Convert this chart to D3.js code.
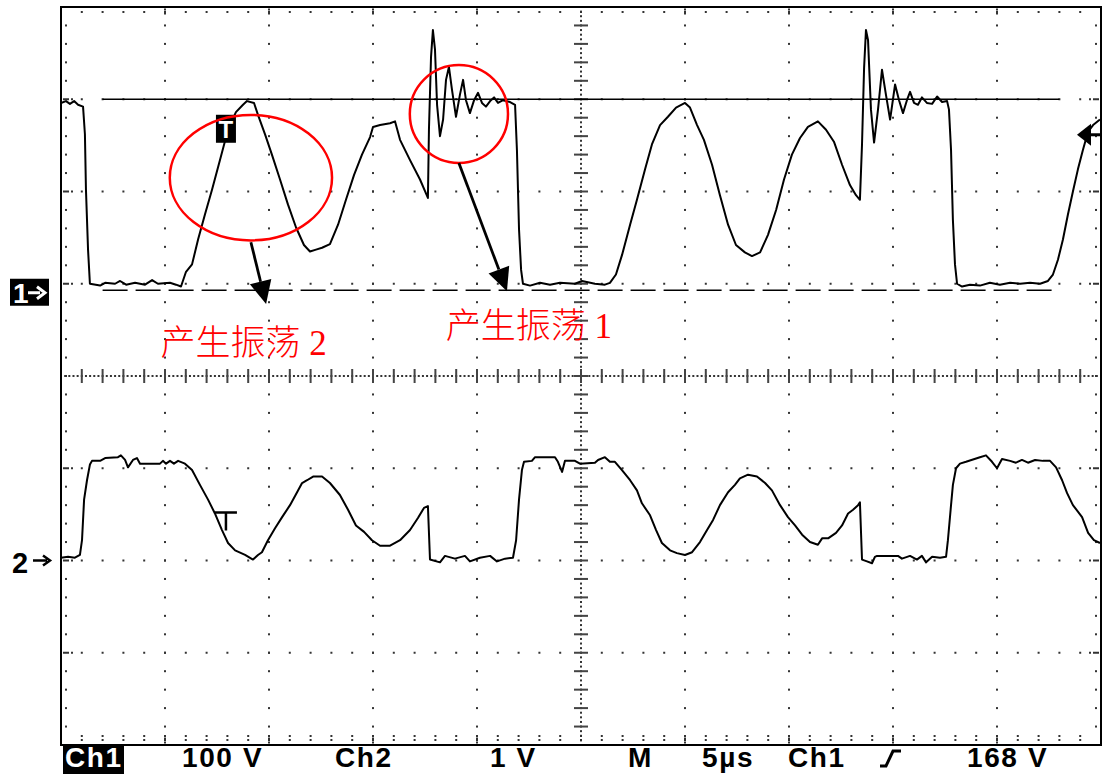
<!DOCTYPE html>
<html>
<head>
<meta charset="utf-8">
<script src="https://cdn.jsdelivr.net/npm/d3@7"></script>
<style>
  body { margin: 0; background: #fff; }
  svg { display: block; }
</style>
</head>
<body>
<div id="scope"></div>
<script>
// Scope settings
var timePerDiv = 5;      // µs / div
var ch1PerDiv = 100;     // V / div
var ch2PerDiv = 1;       // V / div
var trigLevel = 168;     // V
var trigTime = 7.93;     // µs

// Channel 1 trace (µs, V)
var ch1Time = [
  0, 0.24, 0.43, 0.63, 0.82, 1.06, 1.15, 1.20, 1.30, 1.39,
  1.88, 2.12, 2.60, 2.84, 3.13, 3.56, 4.04, 4.38, 4.66, 5.24, 5.53, 5.77,
  6.01, 6.30, 6.59, 6.92, 7.26, 7.64, 8.03, 8.41, 8.75, 8.94, 9.28, 9.47, 9.81, 10.14,
  10.53, 10.91, 11.30, 11.68, 11.97, 12.26, 12.55, 12.93, 13.32, 13.70, 14.09, 14.47,
  14.86, 15.00, 15.34, 15.82, 16.06, 16.30, 16.78, 17.26, 17.64,
  17.69, 17.79, 17.88, 17.98, 18.08, 18.22, 18.37, 18.51, 18.65, 18.80, 18.99, 19.18,
  19.33, 19.47, 19.66, 19.86, 20.05, 20.24, 20.43, 20.63, 20.82, 21.01, 21.25, 21.59, 21.83,
  21.92, 22.02, 22.12, 22.21, 22.55, 23.03, 23.51, 23.99, 24.71, 25.05, 25.67, 26.15, 26.39,
  26.68, 26.97, 27.36, 27.69, 28.08, 28.41, 28.80, 29.18, 29.57, 30.00, 30.24, 30.58,
  30.91, 31.30, 31.68, 32.07, 32.45, 32.88, 33.22, 33.61, 33.99, 34.38, 34.76, 35.14,
  35.53, 35.91, 36.39, 36.78, 37.16, 37.55, 37.93, 38.22, 38.41,
  38.51, 38.61, 38.70, 38.80, 38.94, 39.09, 39.28, 39.47, 39.66, 39.86, 40.10, 40.29,
  40.48, 40.67, 40.82, 41.01, 41.20, 41.39, 41.63, 41.88, 42.12, 42.36, 42.60,
  42.69, 42.79, 42.88, 42.98, 43.08, 43.32, 43.70, 44.18, 44.66, 45.14, 45.63, 46.11,
  46.59, 47.07, 47.45,
  47.69, 47.93, 48.17, 48.41, 48.65, 48.89, 49.13, 49.38, 49.62, 49.95
];
var ch1Volt = [
  196, 198, 195, 198, 194, 192, 162, 102, 37, 0,
  -2, 1, 0, 3, -1, 1, -1, 4, 0, 1, -1, -3,
  13, 21, 48, 75, 102, 134, 167, 186, 194, 198, 196, 183, 162, 140,
  113, 86, 61, 42, 35, 37, 39, 43, 64, 91, 118, 140,
  159, 170, 172, 174, 176, 156, 134, 113, 93,
  167, 246, 275, 254, 194, 160, 178, 221, 235, 210, 181, 205,
  221, 199, 185, 199, 207, 196, 192, 198, 202, 196, 199, 197, 194,
  145, 59, 15, 0, -2, 1, -1, 1, 0, 3, 0, -1, 1,
  10, 31, 64, 91, 124, 151, 172, 181, 191, 196, 191, 172,
  156, 129, 96, 64, 42, 34, 30, 34, 53, 80, 113, 140,
  158, 170, 176, 167, 154, 129, 107, 96, 91,
  151, 234, 275, 264, 189, 153, 189, 232, 205, 178, 216, 199,
  185, 199, 208, 196, 194, 202, 196, 195, 203, 197, 198,
  189, 145, 69, 21, 0, -3, -1, -2, 1, -1, 1, 0,
  1, 0, 3,
  10, 26, 48, 75, 100, 124, 145, 165, 172, 178
];

// Channel 2 trace (µs, V)
var ch2Time = [
  0, 0.34, 0.67, 0.91, 1.01, 1.11, 1.25, 1.39, 1.49, 1.88,
  2.12, 2.74, 2.88, 3.08, 3.22, 3.46, 3.65, 3.80, 4.76, 4.90,
  5.05, 5.24, 5.43, 5.63, 5.96, 6.30, 6.68, 7.07, 7.40, 7.74,
  8.03, 8.37, 8.85, 9.23, 9.47, 9.66, 9.95, 10.29, 10.63, 11.01,
  11.35, 11.59, 11.83, 12.12, 12.55, 12.93, 13.41, 13.80, 14.18, 14.57,
  14.95, 15.34, 15.82, 16.30, 16.78, 17.16, 17.45, 17.64, 17.74, 18.22,
  18.46, 18.94, 19.42, 19.66, 20.14, 20.63, 20.96, 21.35, 21.73, 21.88,
  22.02, 22.16, 22.26, 22.64, 22.79, 23.75, 23.89, 24.09, 24.23, 24.71,
  24.95, 25.67, 25.82, 26.15, 26.39, 26.63, 26.97, 27.36, 27.69, 27.93,
  28.32, 28.61, 28.89, 29.28, 29.61, 30.00, 30.34, 30.72, 31.06, 31.35,
  31.68, 32.07, 32.40, 32.64, 33.03, 33.46, 33.85, 34.18, 34.57, 34.95,
  35.29, 35.63, 36.01, 36.39, 36.59, 36.88, 37.26, 37.55, 37.84, 38.08,
  38.32, 38.41, 38.51, 38.75, 38.99, 39.13, 39.23, 40.24, 40.43, 40.82,
  41.15, 41.39, 41.59, 41.88, 42.26, 42.55, 42.64, 42.79, 42.88, 43.03,
  43.22, 43.51, 44.18, 44.47, 44.76, 45.00, 45.24, 45.63, 45.91, 46.20,
  46.49, 46.83, 47.21, 47.55, 47.84, 48.13, 48.37, 48.65, 48.89, 49.09,
  49.38, 49.66, 49.95
];
var ch2Volt = [
  0.03, 0.04, 0.03, 0.06, 0.22, 0.66, 0.87, 1.04, 1.08, 1.08,
  1.11, 1.12, 1.14, 1.09, 1.01, 1.09, 1.11, 1.05, 1.05, 1.08,
  1.05, 1.08, 1.05, 1.08, 1.05, 0.98, 0.82, 0.66, 0.51, 0.33,
  0.19, 0.11, 0.06, 0.01, 0.06, 0.09, 0.22, 0.35, 0.47, 0.60,
  0.74, 0.84, 0.87, 0.91, 0.91, 0.84, 0.71, 0.55, 0.38, 0.31,
  0.22, 0.16, 0.16, 0.22, 0.33, 0.46, 0.57, 0.59, 0.01, -0.02,
  0.05, 0.02, 0.05, -0.01, 0.03, 0.05, -0.01, 0.02, 0.03, 0.22,
  0.66, 0.98, 1.07, 1.08, 1.12, 1.12, 1.07, 0.96, 1.08, 1.08,
  1.05, 1.06, 1.09, 1.12, 1.07, 1.07, 0.98, 0.87, 0.76, 0.62,
  0.49, 0.33, 0.19, 0.11, 0.08, 0.06, 0.09, 0.20, 0.33, 0.44,
  0.60, 0.74, 0.82, 0.89, 0.93, 0.91, 0.84, 0.76, 0.60, 0.47,
  0.38, 0.28, 0.20, 0.17, 0.24, 0.24, 0.30, 0.38, 0.51, 0.55,
  0.60, 0.63, 0.01, -0.01, -0.03, 0.04, 0.05, 0.05, 0.02, 0.05,
  0.01, 0.05, -0.02, 0.04, 0.03, 0.04, 0.22, 0.60, 0.82, 1.00,
  1.05, 1.07, 1.12, 1.14, 1.07, 1.00, 1.10, 1.08, 1.06, 1.09,
  1.06, 1.09, 1.08, 1.08, 1.01, 0.87, 0.73, 0.60, 0.53, 0.47,
  0.30, 0.22, 0.19
];

// Cursor lines on ch1 (V): solid, dashed
var cursorLevels = [200, -7];
var cursorSpan = [2, 48];

// Annotations: red rings on ch1 (centre µs/V, radius µs/V), arrows, labels
var ringCentres = [[9.13, 115], [19.13, 184]];
var ringRadii = [[3.9, 68], [2.36, 53]];
var arrowFrom = [[9.13, 45], [19.13, 131]];
var arrowTo = [[9.86, -22], [21.44, -8]];
var noteText = ["产生振荡", "产生振荡"];
var noteNum = ["2", "1"];
var noteAt = [[4.78, -77], [18.5, -59]];

// ---- drawing ----
var width = 1104, height = 774;
var plot = { left: 61, top: 7, right: 1101, bottom: 745 };

var svg = d3.select("#scope").append("svg")
  .attr("width", width).attr("height", height);

var x = d3.scaleLinear().domain([0, 10 * timePerDiv]).range([plot.left, plot.right]);
var y1 = d3.scaleLinear().domain([-5 * ch1PerDiv, 3 * ch1PerDiv]).range([plot.bottom, plot.top]);
var y2 = d3.scaleLinear().domain([-2 * ch2PerDiv, 6 * ch2PerDiv]).range([plot.bottom, plot.top]);
var yDiv = d3.scaleLinear().domain([0, 8]).range([plot.top, plot.bottom]);

// grid dots
var dots = [];
var ticks = [];
d3.range(1, 10).forEach(function (k) {
  var gx = x(k * timePerDiv);
  if (k === 5) {
    d3.range(0, 161).forEach(function (j) { dots.push([gx, yDiv(j / 20)]); });
    d3.range(1, 40).forEach(function (j) { ticks.push([gx - 7, yDiv(j / 5) - 1, 14, 2]); });
  } else {
    d3.range(1, 40).forEach(function (j) { dots.push([gx, yDiv(j / 5)]); });
    [2.5, 6.5].forEach(function (o) {
      dots.push([gx, plot.top + o]); dots.push([gx, plot.bottom - o]);
    });
  }
});
d3.range(1, 8).forEach(function (k) {
  var gy = yDiv(k);
  if (k === 4) {
    d3.range(0, 251).forEach(function (j) { dots.push([x(j / 5), gy]); });
    d3.range(1, 50).forEach(function (i) { ticks.push([x(i) - 1, gy - 7, 2, 14]); });
  } else {
    d3.range(1, 50).forEach(function (i) { dots.push([x(i), gy]); });
    [3, 7, 11].forEach(function (o) {
      dots.push([plot.left + o, gy]); dots.push([plot.right - o, gy]);
    });
  }
});
// edge ticks
d3.range(1, 50).forEach(function (i) {
  dots.push([x(i), plot.top + 5]);
  dots.push([x(i), plot.bottom - 5]);
  dots.push([x(i), plot.bottom - 9]);
});
d3.range(1, 40).forEach(function (j) {
  dots.push([plot.left + 5, yDiv(j / 5)]);
  dots.push([plot.right - 5, yDiv(j / 5)]);
});

svg.append("g").attr("fill", "#333")
  .selectAll("rect").data(dots).enter().append("rect")
  .attr("x", function (d) { return d[0] - 1; })
  .attr("y", function (d) { return d[1] - 1; })
  .attr("width", 2).attr("height", 2);

svg.append("g").attr("fill", "#444")
  .selectAll("rect").data(ticks).enter().append("rect")
  .attr("x", function (d) { return d[0]; })
  .attr("y", function (d) { return d[1]; })
  .attr("width", function (d) { return d[2]; })
  .attr("height", function (d) { return d[3]; });

// frame
svg.append("rect")
  .attr("x", plot.left).attr("y", plot.top)
  .attr("width", plot.right - plot.left).attr("height", plot.bottom - plot.top)
  .attr("fill", "none").attr("stroke", "#000").attr("stroke-width", 2);

// cursors
svg.selectAll(".cursor").data(cursorLevels).enter().append("line")
  .attr("class", "cursor")
  .attr("x1", x(cursorSpan[0])).attr("x2", x(cursorSpan[1]))
  .attr("y1", function (d) { return y1(d); }).attr("y2", function (d) { return y1(d); })
  .attr("stroke", "#000").attr("stroke-width", 1.6)
  .attr("stroke-dasharray", function (d, i) { return i === 1 ? "25,8" : null; });

// traces
var line1 = d3.line().x(function (d) { return x(d[0]); }).y(function (d) { return y1(d[1]); });
var line2 = d3.line().x(function (d) { return x(d[0]); }).y(function (d) { return y2(d[1]); });

svg.append("path").datum(d3.zip(ch1Time, ch1Volt))
  .attr("d", line1).attr("fill", "none").attr("stroke", "#000")
  .attr("stroke-width", 2).attr("stroke-linejoin", "round");
svg.append("path").datum(d3.zip(ch2Time, ch2Volt))
  .attr("d", line2).attr("fill", "none").attr("stroke", "#000")
  .attr("stroke-width", 2).attr("stroke-linejoin", "round");

// trigger marks
var tx = x(trigTime);
svg.append("rect").attr("x", tx - 10).attr("y", y1(trigLevel) - 14)
  .attr("width", 20).attr("height", 28).attr("fill", "#000");
svg.append("text").attr("x", tx).attr("y", y1(trigLevel) + 9)
  .attr("text-anchor", "middle").attr("fill", "#fff")
  .style("font", "bold 24px 'Liberation Sans', sans-serif").text("T");

var t2y = y2(0.52);
svg.append("path")
  .attr("d", "M" + (tx - 11) + "," + t2y + "H" + (tx + 11) +
    "M" + tx + "," + t2y + "V" + (t2y + 18))
  .attr("stroke", "#000").attr("stroke-width", 2.5).attr("fill", "none");

// trigger level arrow at right edge
var ty = y1(trigLevel) + 6;
svg.append("path")
  .attr("d", "M" + (plot.right - 24) + "," + ty + "L" + (plot.right - 10) + "," + (ty - 11) +
    "L" + (plot.right - 10) + "," + (ty + 11) + "Z")
  .attr("fill", "#000");
svg.append("rect").attr("x", plot.right - 12).attr("y", ty - 1.5)
  .attr("width", 12).attr("height", 3).attr("fill", "#000");

// ground markers
svg.append("rect").attr("x", 10).attr("y", y1(0) - 5).attr("width", 39).attr("height", 27).attr("fill", "#000");
svg.append("text").attr("x", 13).attr("y", y1(0) + 19).attr("fill", "#fff")
  .style("font", "bold 28px 'Liberation Sans', sans-serif").text("1");
svg.append("path")
  .attr("d", "M28," + (y1(0) + 9) + "H40M37," + (y1(0) + 3) + "L45," + (y1(0) + 9) + "L37," + (y1(0) + 15))
  .attr("stroke", "#fff").attr("stroke-width", 3).attr("fill", "none");

svg.append("text").attr("x", 12).attr("y", y2(0) + 12).attr("fill", "#000")
  .style("font", "bold 29px 'Liberation Sans', sans-serif").text("2");
svg.append("path")
  .attr("d", "M33," + y2(0) + "H47M43," + (y2(0) - 5) + "L50," + y2(0) + "L43," + (y2(0) + 5))
  .attr("stroke", "#000").attr("stroke-width", 2.5).attr("fill", "none");

// red rings
svg.selectAll(".ring").data(ringCentres).enter().append("ellipse")
  .attr("class", "ring")
  .attr("cx", function (d) { return x(d[0]); })
  .attr("cy", function (d) { return y1(d[1]); })
  .attr("rx", function (d, i) { return x(ringRadii[i][0]) - x(0); })
  .attr("ry", function (d, i) { return y1(0) - y1(ringRadii[i][1]); })
  .attr("fill", "none").attr("stroke", "#ff0000").attr("stroke-width", 2.5);

// arrows
arrowFrom.forEach(function (a, i) {
  var x0 = x(a[0]), y0 = y1(a[1]);
  var x3 = x(arrowTo[i][0]), y3 = y1(arrowTo[i][1]);
  var ang = Math.atan2(y3 - y0, x3 - x0);
  var hl = 23, hw = 11;
  var bx = x3 - hl * Math.cos(ang), by = y3 - hl * Math.sin(ang);
  svg.append("line").attr("x1", x0).attr("y1", y0).attr("x2", bx).attr("y2", by)
    .attr("stroke", "#000").attr("stroke-width", 2.8);
  svg.append("path")
    .attr("d", "M" + x3 + "," + y3 +
      "L" + (bx + hw * Math.sin(ang)) + "," + (by - hw * Math.cos(ang)) +
      "L" + (bx - hw * Math.sin(ang)) + "," + (by + hw * Math.cos(ang)) + "Z")
    .attr("fill", "#000");
});

// labels
noteText.forEach(function (t, i) {
  var txt = svg.append("text")
    .attr("x", x(noteAt[i][0])).attr("y", y1(noteAt[i][1]))
    .attr("fill", "#ff0000");
  txt.append("tspan").style("font", "300 35px 'Noto Sans CJK SC', sans-serif").text(t);
  txt.append("tspan").style("font", "35px 'Liberation Serif', serif").text(" " + noteNum[i]);
});

// status bar
var statusItems = [
  { text: "Ch1", x: 65, inv: true },
  { text: ch1PerDiv + " V", x: 182 },
  { text: "Ch2", x: 335 },
  { text: ch2PerDiv + " V", x: 490 },
  { text: "M", x: 628 },
  { text: timePerDiv + "µs", x: 702 },
  { text: "Ch1", x: 788 },
  { text: trigLevel + " V", x: 967 }
];
svg.append("rect").attr("x", 63).attr("y", plot.bottom + 1).attr("width", 61).attr("height", 28).attr("fill", "#000");
svg.selectAll(".status").data(statusItems).enter().append("text")
  .attr("class", "status")
  .attr("x", function (d) { return d.x; }).attr("y", 767)
  .attr("fill", function (d) { return d.inv ? "#fff" : "#000"; })
  .style("font", "bold 28px 'Liberation Sans', sans-serif")
  .style("letter-spacing", "1.6px")
  .text(function (d) { return d.text; });

svg.append("path").attr("d", "M880,766H886L893,751H901")
  .attr("stroke", "#000").attr("stroke-width", 3).attr("fill", "none");
</script>
</body>
</html>
